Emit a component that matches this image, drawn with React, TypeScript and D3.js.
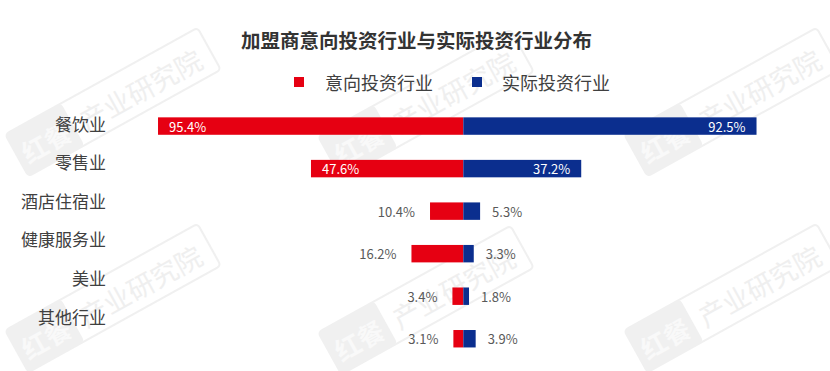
import * as d3 from "d3"

const categories = ["餐饮业", "零售业", "酒店住宿业", "健康服务业", "美业", "其他行业"]
const intentValues = [95.4, 47.6, 10.4, 16.2, 3.4, 3.1]
const actualValues = [92.5, 37.2, 5.3, 3.3, 1.8, 3.9]
const seriesNames = ["意向投资行业", "实际投资行业"]

const W = 830
const H = 371
const RED = "#e60012"
const BLUE = "#0b2e8e"
const FONT = "'Noto Sans CJK SC', 'Noto Sans', sans-serif"

// watermark anchors (decorative)
const marks: [number, number][] = [
  [113, 102], [426, 104], [732, 102],
  [113, 298], [426, 300], [732, 298],
]

function Watermark({ x, y }: { x: number; y: number }) {
  return (
    <g transform={`translate(${x},${y}) rotate(-29)`} opacity={0.8}>
      <rect x={-110} y={-24} width={220} height={48} rx={4} fill="none" stroke="#ededed" strokeWidth={2} />
      <rect x={-110} y={-24} width={64} height={48} rx={4} fill="#ededed" />
      <text x={-78} y={2} textAnchor="middle" dominantBaseline="central" fontSize={26} fontWeight={700} fill="#f8f8f8" fontFamily={FONT}>红餐</text>
      <text x={30} y={2} textAnchor="middle" dominantBaseline="central" fontSize={27} fill="#ececec" fontFamily={FONT}>产业研究院</text>
    </g>
  )
}

export default function App() {
  const center = 463.3

  const xLeft = d3.scaleLinear().domain([0, 100]).range([center, center - 320])
  const xRight = d3.scaleLinear().domain([0, 100]).range([center, center + 317])

  const y = d3.scaleBand<string>()
    .domain(categories)
    .range([104.8, 360])
    .paddingInner(0.59)
    .paddingOuter(0.295)

  // category labels sit on their own, slightly tighter spacing
  const yLabel = d3.scalePoint<string>().domain(categories).range([123, 316])

  const bw = y.bandwidth()
  const inside = (v: number) => v > 30

  return (
    <div style={{ position: "absolute", left: 0, top: 0 }}>
      <svg width={W} height={H} style={{ display: "block", background: "#fff" }}>
        {marks.map(([mx, my], i) => <Watermark key={i} x={mx} y={my} />)}

        <text x={416.5} y={39} textAnchor="middle" dominantBaseline="central" fontSize={19.5} fontWeight={700} fill="#333" fontFamily={FONT}>
          加盟商意向投资行业与实际投资行业分布
        </text>

        {/* legend */}
        <rect x={294} y={77} width={10} height={10} fill={RED} />
        <text x={325} y={82} dominantBaseline="central" fontSize={18} fill="#404040" fontFamily={FONT}>{seriesNames[0]}</text>
        <rect x={472} y={77} width={10} height={10} fill={BLUE} />
        <text x={502} y={82} dominantBaseline="central" fontSize={18} fill="#404040" fontFamily={FONT}>{seriesNames[1]}</text>

        {categories.map((c) => (
          <text key={c} x={106} y={yLabel(c)} textAnchor="end" dominantBaseline="central" fontSize={17} fill="#404040" fontFamily={FONT}>
            {c}
          </text>
        ))}

        {categories.map((c, i) => {
          const top = y(c) as number
          const mid = top + bw / 2
          const a = intentValues[i]
          const b = actualValues[i]
          const x0 = xLeft(a)
          const x1 = xRight(b)
          return (
            <g key={c}>
              <rect x={x0} y={top} width={center - x0} height={bw} fill={RED} />
              <rect x={center} y={top} width={x1 - center} height={bw} fill={BLUE} />
              {inside(a) ? (
                <text x={x0 + 11} y={mid} dominantBaseline="central" fontSize={13} fill="#fff" fontFamily={FONT}>{a.toFixed(1)}%</text>
              ) : (
                <text x={x0 - 15} y={mid} textAnchor="end" dominantBaseline="central" fontSize={13} fill="#595959" fontFamily={FONT}>{a.toFixed(1)}%</text>
              )}
              {inside(b) ? (
                <text x={x1 - 11} y={mid} textAnchor="end" dominantBaseline="central" fontSize={13} fill="#fff" fontFamily={FONT}>{b.toFixed(1)}%</text>
              ) : (
                <text x={x1 + 12} y={mid} dominantBaseline="central" fontSize={13} fill="#595959" fontFamily={FONT}>{b.toFixed(1)}%</text>
              )}
            </g>
          )
        })}
      </svg>
    </div>
  )
}
